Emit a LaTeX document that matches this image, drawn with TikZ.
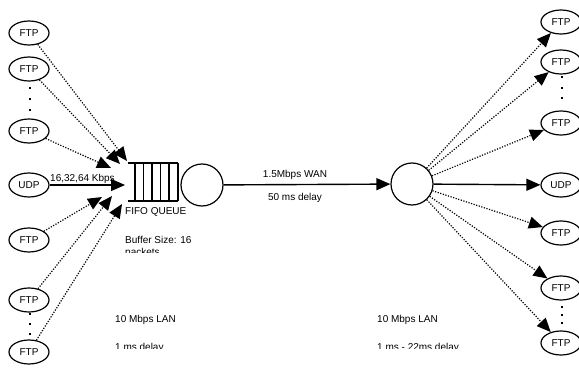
\documentclass[tikz,border=0pt]{standalone}
\usepackage{fontspec}
\setmainfont{Liberation Sans}
\usetikzlibrary{arrows.meta, positioning, shapes.geometric}

\begin{document}
\begin{tikzpicture}[x=1pt, y=-1pt,
  app/.style={draw, line width=1.2pt, ellipse, minimum width=40pt, minimum height=24pt,
              inner sep=0pt, font=\fontsize{10}{12}\selectfont},
  router/.style={draw, line width=1.2pt, circle, minimum size=42pt, inner sep=0pt},
  lbl/.style={font=\fontsize{10}{12}\selectfont, inner sep=0pt, anchor=base west},
  clbl/.style={lbl, anchor=base},
  dotarr/.style={-{Triangle[length=14pt, width=12pt]}, line width=1.2pt,
                 dash pattern=on 1.2pt off 1.5pt},
  solarr/.style={-{Triangle[length=14pt, width=12pt]}, line width=1.4pt},
  gap/.style={fill, rectangle, inner sep=0pt, minimum size=2.6pt},
]
\useasboundingbox (0,0) rectangle (579,369);

% sources
\node[app] (l1) at (29,33)  {FTP};
\node[app] (l2) at (29,69)  {FTP};
\node[app] (l3) at (29,131) {FTP};
\node[app] (lu) at (29,185) {UDP};
\node[app] (l4) at (29,240) {FTP};
\node[app] (l5) at (29,300) {FTP};
\node[app] (l6) at (29,352) {FTP};
\foreach \y [count=\i] in {88,99,110,314,324,334}
  \node[gap] (ld\i) at (30,\y) {};

% sinks
\node[app] (r1) at (561,22)  {FTP};
\node[app] (r2) at (561,62)  {FTP};
\node[app] (r3) at (561,123) {FTP};
\node[app] (ru) at (561,185) {UDP};
\node[app] (r4) at (561,233) {FTP};
\node[app] (r5) at (561,288) {FTP};
\node[app] (r6) at (561,343) {FTP};
\foreach \y [count=\i] in {77,88,98,307,315,323}
  \node[gap] (rd\i) at (562,\y) {};

% FIFO queue and routers
\draw[line width=1.2pt] (128,163) -- (178,163) (128,201) -- (178,201);
\foreach \x in {135,143.5,152,160.5,169,178}
  \draw[line width=1.2pt] (\x,163) -- (\x,201);
\node[router] (lc) at (202,185) {};
\node[router] (rc) at (412,184) {};

% arrow ends at the queue
\coordinate (q1) at (127,161);
\coordinate (q2) at (120,164);
\coordinate (q3) at (111,168);
\coordinate (qu) at (125,185);
\coordinate (q4) at (102,197);
\coordinate (q5) at (112,196);
\coordinate (q6) at (122,204);

\draw[dotarr] (l1) -- (q1);
\draw[dotarr] (l2) -- (q2);
\draw[dotarr] (l3) -- (q3);
\draw[solarr] (lu) -- (qu);
\draw[dotarr] (l4) -- (q4);
\draw[dotarr] (l5) -- (q5);
\draw[dotarr] (l6) -- (q6);

\draw[solarr] (lc) -- (rc);

\draw[dotarr] (rc) -- (r1);
\draw[dotarr] (rc) -- (r2);
\draw[dotarr] (rc) -- (r3);
\draw[solarr] (rc) -- (ru);
\draw[dotarr] (rc) -- (r4);
\draw[dotarr] (rc) -- (r5);
\draw[dotarr] (rc) -- (r6);

% labels
\node[lbl]  (rate) at (50,182)  {16,32,64 Kbps};
\node[lbl]  (fifo) at (125,214.5) {FIFO QUEUE};
\node[clbl] (wan)  at (295,177) {1.5Mbps WAN};
\node[clbl] (wand) at (295,200) {50 ms delay};
\node[lbl]  (buf)  at (125,243) {Buffer Size: 16};
\node[lbl]  (lan1) at (115,322) {10 Mbps LAN};
\node[lbl]  (lan2) at (377,322) {10 Mbps LAN};
\begin{scope}
  \clip (100,244) rectangle (300,252);
  \node[lbl] (pkts) at (125,255) {packets};
\end{scope}
\begin{scope}
  \clip (100,340) rectangle (520,348);
  \node[lbl] (del1) at (115,350.5) {1 ms delay};
  \node[lbl] (del2) at (377,350.5) {1 ms - 22ms delay};
\end{scope}
\end{tikzpicture}
\end{document}
